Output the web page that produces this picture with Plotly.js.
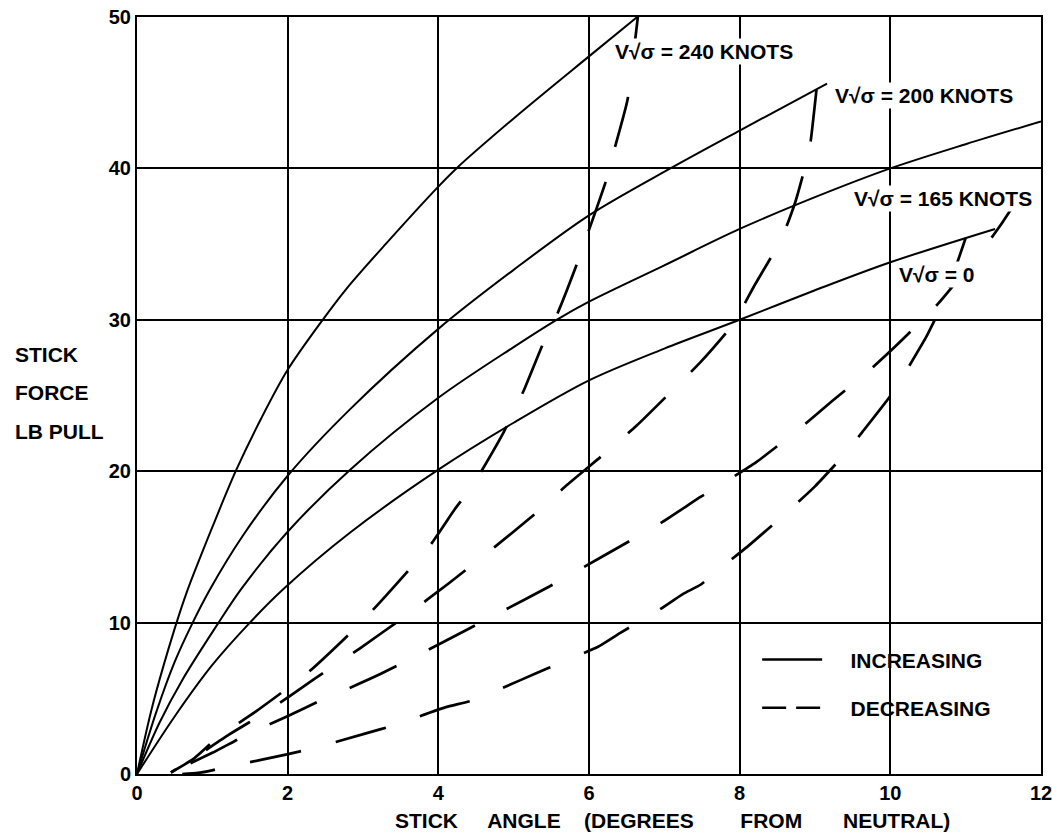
<!DOCTYPE html>
<html><head><meta charset="utf-8">
<script src="https://cdn.plot.ly/plotly-3.0.1.min.js"></script>
<style>html,body{margin:0;padding:0;background:#fff}</style>
</head><body>
<div id="chart" style="width:1052px;height:837px"></div>
<script>
// ---- data ----
const xTickVals = [0, 2, 4, 6, 8, 10, 12];
const yTickVals = [0, 10, 20, 30, 40, 50];

// increasing (solid) curves
const inc240X = [0, 0.2, 0.5, 0.66, 1.0, 1.31, 1.65, 2, 2.465, 2.78, 3.3, 4, 4.24, 5, 6, 6.64];
const inc240Y = [0, 4.4, 9.6, 12.0, 16.3, 20, 23.5, 26.7, 30, 32.05, 35.0, 38.8, 40, 43.3, 47.4, 50];
const inc200X = [0, 0.25, 0.5, 0.73, 0.97, 1.4, 2, 2.83, 4, 5, 6, 7.08, 8, 9.16];
const inc200Y = [0, 4.0, 7.4, 9.9, 12.2, 15.7, 19.7, 24.1, 29.4, 33.3, 36.9, 40, 42.5, 45.6];
const inc165X = [0, 0.3, 0.6, 1.07, 1.38, 2, 2.83, 4, 5, 5.57, 6, 7, 8, 9, 10, 11, 12];
const inc165Y = [0, 3.4, 6.2, 9.9, 12.2, 16, 20.1, 24.85, 28.2, 30, 31.2, 33.6, 36, 38.1, 40, 41.6, 43.1];
const inc0X = [0, 0.5, 1.0, 1.48, 1.94, 2.83, 4, 5, 6, 7, 8, 9, 10, 11.39];
const inc0Y = [0, 3.8, 7.2, 9.9, 12.2, 15.95, 20.1, 23.2, 26.0, 28.1, 30, 31.95, 33.8, 36];

// decreasing (dashed) curves
const dec240X = [6.66, 6.51, 6.35, 6.22, 5.99, 5.84, 5.58, 5.38, 5.14, 4.87, 4.45, 4.22, 3.92, 3.65, 3.2, 2.83, 2.27, 1.57, 1.08, 0.75, 0.45];
const dec240Y = [50.5, 44.5, 41.5, 39.1, 35.8, 33.7, 30.4, 28.3, 25.4, 22.6, 19.0, 17.5, 15.3, 13.7, 11.2, 9.3, 6.7, 4.1, 2.45, 1.0, 0.1];
const dec200X = [9.02, 8.94, 8.9, 8.74, 8.56, 8.2, 7.91, 7.48, 7.08, 6.63, 6.24, 5.71, 5.36, 4.75, 4.14, 3.58, 2.96, 2.36, 1.75, 1.22, 0.8, 0.45];
const dec200Y = [45.2, 41.7, 40.7, 37.8, 35.4, 32.3, 29.7, 27.2, 25.2, 23.0, 21.3, 19.1, 17.5, 15.0, 12.6, 10.5, 8.3, 6.3, 4.2, 2.6, 1.2, 0.1];
const dec165X = [11.72, 11.59, 11.37, 10.64, 10.12, 9.73, 9.22, 8.84, 8.22, 7.65, 7.48, 6.96, 6.19, 5.48, 4.79, 4.06, 3.23, 2.83, 2.5, 1.99, 1.46, 1.0, 0.46, 0.4];
const dec165Y = [38.3, 37.2, 35.6, 31.1, 28.5, 26.7, 24.6, 23.0, 20.6, 18.8, 18.3, 16.6, 14.4, 12.4, 10.6, 8.7, 6.6, 5.7, 5.0, 3.8, 2.6, 1.4, 0.13, 0];
const dec0X = [11.0, 10.89, 10.73, 10.6, 10.48, 10.16, 9.99, 9.63, 9.39, 9.0, 8.63, 8.1, 7.77, 7.48, 7.25, 6.95, 6.41, 6.12, 5.46, 5.09, 4.48, 4.09, 3.4, 3.05, 2.34, 1.99, 1.33, 1.01, 0.81, 0.6];
const dec0Y = [35.4, 33.8, 31.4, 30.1, 28.9, 26.2, 24.9, 22.6, 21.1, 19.0, 17.3, 15.0, 13.7, 12.5, 11.9, 10.9, 9.3, 8.4, 7.0, 6.2, 4.9, 4.4, 3.2, 2.7, 1.7, 1.3, 0.6, 0.26, 0.07, 0];

const curveLabels = ['V√σ = 240 KNOTS', 'V√σ = 200 KNOTS', 'V√σ = 165 KNOTS', 'V√σ = 0'];
const labelX = [6.32, 9.24, 9.49, 10.09];
const labelY = [47.7, 44.8, 38.0, 33.0];
const legendNames = ['INCREASING', 'DECREASING'];

// ---- drawing ----
const FONT = 'Liberation Sans, Arial, sans-serif';
const solidLine = {color: '#000', width: 2};
const dashLine = {color: '#000', width: 2.7, dash: '52px,36px'};

const incSets = [[inc240X, inc240Y], [inc200X, inc200Y], [inc165X, inc165Y], [inc0X, inc0Y]];
const decSets = [[dec240X, dec240Y], [dec200X, dec200Y], [dec165X, dec165Y], [dec0X, dec0Y]];

const traces = [];
incSets.forEach((s) => traces.push({
  x: s[0], y: s[1], type: 'scatter', mode: 'lines', line: {...solidLine, shape: 'spline', smoothing: 0.9},
  name: legendNames[0], legendgroup: 'inc', showlegend: false, hoverinfo: 'skip'
}));
decSets.forEach((s) => traces.push({
  x: s[0], y: s[1], type: 'scatter', mode: 'lines', line: {...dashLine, shape: 'spline', smoothing: 0.5},
  name: legendNames[1], legendgroup: 'dec', showlegend: false, hoverinfo: 'skip'
}));
// legend keys (no data, legend only)
const pad = '\u00a0\u00a0\u00a0\u00a0';
traces.push({x: [null], y: [null], type: 'scatter', mode: 'lines', name: pad + legendNames[0],
  legendgroup: 'inc', line: {color: '#000', width: 2.5}, hoverinfo: 'skip'});
traces.push({x: [null], y: [null], type: 'scatter', mode: 'lines', name: pad + legendNames[1],
  legendgroup: 'dec', line: {color: '#000', width: 2.5, dash: '24px,10px'}, hoverinfo: 'skip'});

const annotations = curveLabels.map((t, i) => ({
  x: labelX[i], y: labelY[i], xref: 'x', yref: 'y', text: t, showarrow: false,
  xanchor: 'left', yanchor: 'middle', bgcolor: '#fff', borderpad: 1,
  font: {family: FONT, size: 21, color: '#000', weight: 700}
}));
const yTitle = ['STICK', 'FORCE', 'LB PULL'];
const yTitlePos = [0.554, 0.504, 0.453];
yTitle.forEach((t, i) => annotations.push({
  x: -0.137, y: yTitlePos[i], xref: 'paper', yref: 'paper', text: t, showarrow: false,
  xanchor: 'left', yanchor: 'middle', font: {family: FONT, size: 21, color: '#000', weight: 700}
}));
const nb = n => '\u00a0'.repeat(n);
annotations.push({
  x: 0.283, y: -0.061, xref: 'paper', yref: 'paper',
  text: 'STICK' + nb(5) + 'ANGLE' + nb(4) + '(DEGREES' + nb(8) + 'FROM' + nb(7) + 'NEUTRAL)',
  showarrow: false, xanchor: 'left', yanchor: 'middle',
  font: {family: FONT, size: 21, color: '#000', weight: 700}
});

const axisCommon = {
  showgrid: true, gridcolor: '#000', gridwidth: 2, zeroline: false,
  showline: true, linecolor: '#000', linewidth: 2, mirror: true,
  ticks: '', tickfont: {family: FONT, size: 20, color: '#000', weight: 700},
  ticklabeloverflow: 'allow', fixedrange: true
};

const layout = {
  width: 1052, height: 837,
  margin: {l: 137, r: 11, t: 17, b: 63},
  paper_bgcolor: '#fff', plot_bgcolor: '#fff',
  xaxis: {...axisCommon, range: [0, 12], tickvals: xTickVals, ticktext: xTickVals.map(String), ticklabelstandoff: 0},
  yaxis: {...axisCommon, range: [0, 50], tickvals: yTickVals, ticktext: yTickVals.map(String), ticklabelstandoff: 0},
  showlegend: true,
  legend: {
    x: 0.686, y: 0.178, xanchor: 'left', yanchor: 'top',
    bgcolor: 'rgba(0,0,0,0)', borderwidth: 0,
    font: {family: FONT, size: 21, color: '#000', weight: 700},
    traceorder: 'grouped', tracegroupgap: 18, itemwidth: 60
  },
  annotations: annotations
};

Plotly.newPlot('chart', traces, layout, {displayModeBar: false, staticPlot: true});
</script>
</body></html>
